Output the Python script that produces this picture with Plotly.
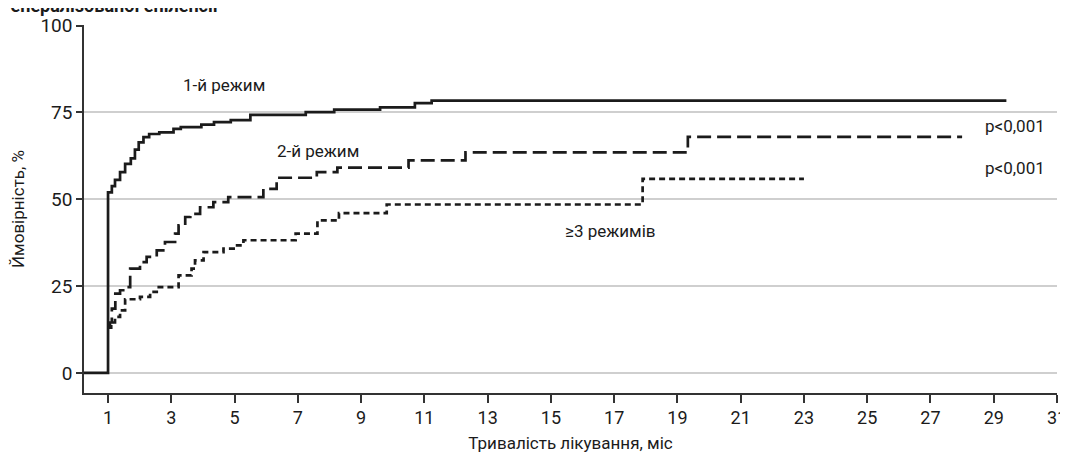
import plotly.graph_objects as go

# Solid curve: 1st regimen
t1 = [0.24, 1.0, 1.12, 1.22, 1.38, 1.54, 1.72, 1.85, 1.97, 2.12, 2.3, 2.62, 3.07, 3.3,
      3.95, 4.35, 4.88, 5.5, 7.25, 8.15, 9.6, 10.7, 11.23, 29.4]
s1 = [0, 52, 53.8, 55.6, 57.8, 60.2, 61.8, 64.3, 66.4, 67.9, 68.8, 69.3, 70.3, 70.8,
      71.5, 72.2, 72.8, 74.3, 75.1, 75.8, 76.5, 77.7, 78.4, 78.4]

# Long dash: 2nd regimen
t2 = [1.0, 1.06, 1.12, 1.23, 1.38, 1.59, 1.70, 2.01, 2.22, 2.54, 2.80, 3.12, 3.23, 3.44,
      3.60, 3.91, 4.33, 4.80, 5.91, 6.33, 7.6, 8.25, 10.5, 12.3, 19.33, 28.0]
s2 = [13, 14.5, 18.5, 22.8, 23.8, 24.7, 30.0, 31.9, 33.4, 35.3, 37.7, 40.1, 42.5, 44.9,
      45.8, 47.7, 49.2, 50.6, 53.0, 56.2, 57.8, 59.1, 61.2, 63.5, 68.0, 68.0]

# Short dash: >=3 regimens
t3 = [1.0, 1.1, 1.22, 1.38, 1.54, 2.01, 2.33, 2.54, 3.23, 3.64, 3.75, 4.02, 4.65, 4.97,
      5.28, 6.93, 7.62, 8.3, 9.81, 17.9, 23.0]
s3 = [13, 14.5, 16.1, 18.0, 21.2, 21.9, 23.3, 24.7, 28.1, 30.0, 32.4, 34.8, 35.8, 36.7,
      38.2, 40.1, 43.9, 46.0, 48.5, 55.9, 55.9]

x_ticks = list(range(1, 32, 2))
y_ticks = [0, 25, 50, 75, 100]

FONT = "Roboto, sans-serif"
INK = "#1b1b1b"

fig = go.Figure()
fig.add_trace(go.Scatter(x=t1, y=s1, mode="lines", line=dict(shape="hv", color=INK, width=2.7)))
fig.add_trace(go.Scatter(x=t2, y=s2, mode="lines",
                         line=dict(shape="hv", color=INK, width=2.7, dash="14px,6px")))
fig.add_trace(go.Scatter(x=t3, y=s3, mode="lines",
                         line=dict(shape="hv", color=INK, width=2.7, dash="6px,4px")))

ann = [
    dict(x=4.67, y=83, text="1-й режим"),
    dict(x=7.64, y=64, text="2-й режим"),
    dict(x=16.87, y=41, text="≥3 режимів"),
    dict(x=29.68, y=71, text="p<0,001"),
    dict(x=29.68, y=59, text="p<0,001"),
]
for a in ann:
    fig.add_annotation(x=a["x"], y=a["y"], text=a["text"], showarrow=False,
                       xref="x", yref="y", font=dict(family=FONT, size=17, color=INK))

fig.add_annotation(x=0, y=1.0, xref="paper", yref="paper", xanchor="left", yanchor="bottom",
                   text="<b>Генералізованої епілепсії</b>", showarrow=False,
                   xshift=-84, yshift=7, font=dict(family=FONT, size=18, color=INK))

fig.update_layout(
    width=1060, height=447,
    margin=dict(l=76, r=11, t=17, b=62),
    paper_bgcolor="white", plot_bgcolor="white",
    showlegend=False,
    font=dict(family=FONT, size=17, color=INK),
)
fig.update_xaxes(range=[0.24, 31], tickvals=x_ticks, ticks="outside", ticklen=8,
                 tickwidth=1.5, tickcolor="#333", showline=True, linecolor="#333",
                 linewidth=1.5, showgrid=False, zeroline=False, automargin=False,
                 tickfont=dict(family=FONT, size=18),
                 title=dict(text="Тривалість лікування, міс", font=dict(family=FONT, size=17),
                            standoff=10))
fig.update_yaxes(range=[-5.8, 100.2], tickvals=y_ticks, ticks="outside", ticklen=6,
                 tickwidth=1.5, tickcolor="#333", showline=True, linecolor="#333",
                 linewidth=1.5, showgrid=True, gridcolor="#cfcfcf", gridwidth=1.5,
                 zeroline=False, automargin=False, tickfont=dict(family=FONT, size=19),
                 title=dict(text="Ймовірність, %", font=dict(family=FONT, size=17),
                            standoff=17))

fig.write_html("out.html")
